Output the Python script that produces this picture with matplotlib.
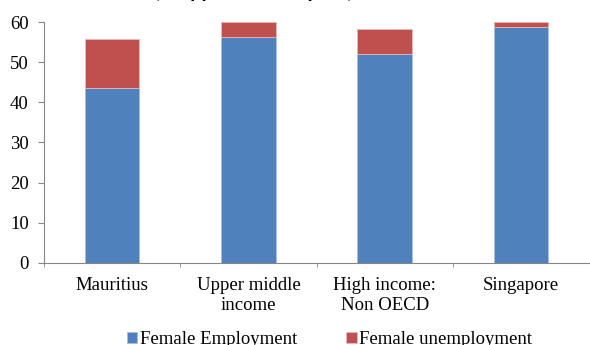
import numpy as np
import matplotlib
matplotlib.use('Agg')
import matplotlib.pyplot as plt

# ----------------------------------------------------------------------
# DATA
# ----------------------------------------------------------------------
categories = ['Mauritius', 'Upper middle\nincome', 'High income:\nNon OECD', 'Singapore']
female_employment = [43.6, 56.2, 52.0, 58.8]
female_unemployment = [12.2, 3.9, 6.2, 1.2]
series_labels = ['Female Employment', 'Female unemployment']
y_ticks = [0, 10, 20, 30, 40, 50, 60]
title_text = '(% of female labor force)'
# ----------------------------------------------------------------------

plt.rcParams['font.family'] = ['Liberation Serif', 'DejaVu Serif']
plt.rcParams['font.size'] = 13.5

fig = plt.figure(figsize=(5.9, 3.45), dpi=100)
ax = fig.add_axes([0.0746, 0.238, 0.924, 0.698])

x = np.arange(len(categories))
blue = '#4F81BD'
red = '#C0504D'
ax.bar(x, female_employment, width=0.4, color=blue, edgecolor='#A7BFDE',
       linewidth=0.6, label=series_labels[0])
ax.bar(x, female_unemployment, width=0.4, bottom=female_employment, color=red,
       edgecolor='#E6B9B8', linewidth=0.6, label=series_labels[1])

ax.set_xlim(-0.5, len(categories) - 0.5)
ax.set_ylim(0, 60)
ax.set_yticks(y_ticks)
ax.tick_params(axis='y', direction='out', length=4, color='#868686', pad=7)

# category labels centered, tick marks on the category boundaries
ax.set_xticks(x)
ax.set_xticklabels(categories, linespacing=1.25)
ax.tick_params(axis='x', which='major', length=0, pad=10)
ax.set_xticks(np.arange(-0.5, len(categories) - 0.5, 1), minor=True)
ax.tick_params(axis='x', which='minor', direction='out', length=3, color='#868686')

for side in ['top', 'right']:
    ax.spines[side].set_visible(False)
for side in ['left', 'bottom']:
    ax.spines[side].set_color('#868686')
    ax.spines[side].set_linewidth(0.8)

# title is cut off by the top edge, only its lower part shows
fig.text(0.432, 1.01, title_text, ha='center', va='baseline',
         fontsize=14, fontweight='bold', fontstyle='italic')

fig.legend(loc='lower center', bbox_to_anchor=(0.559, -0.058), ncol=2,
           frameon=False, handlelength=0.55, handleheight=0.55, handletextpad=0.15,
           columnspacing=2.6, fontsize=13.5)

fig.savefig('out.png', dpi=100)
